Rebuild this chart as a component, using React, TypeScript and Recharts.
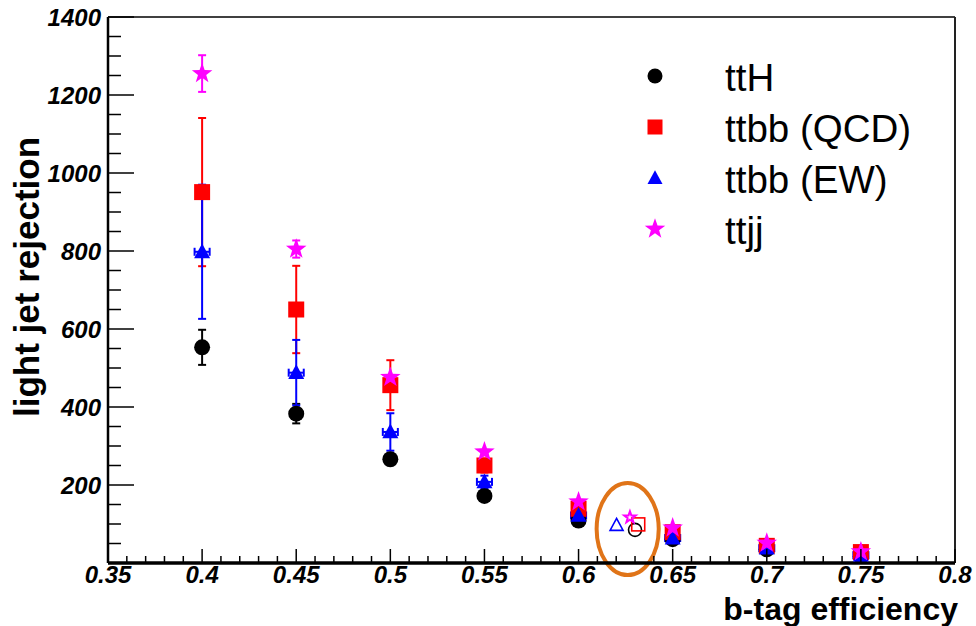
import React from 'react';
import {
  ScatterChart,
  Scatter,
  XAxis,
  YAxis,
  ErrorBar,
  Legend,
  ReferenceLine,
  ReferenceArea,
} from 'recharts';

// b-tag working points
const efficiency = [0.4, 0.45, 0.5, 0.55, 0.6, 0.65, 0.7, 0.75];

// light jet rejection per sample, with statistical errors
const ttH = [553, 383, 266, 172, 109, 61, 35, 17];
const ttHErr = [45, 25, 10, 6, 4, 2, 1, 1];
const ttbbQCD = [951, 650, 456, 250, 139, 79, 44, 28];
const ttbbQCDErr = [190, 112, 64, 18, 10, 5, 3, 2];
const ttbbEW = [798, 488, 336, 208, 122, 64, 38, 20];
const ttbbEWErr = [172, 84, 48, 16, 8, 4, 2, 1];
const ttbbEWEffErr = [0.004, 0.004, 0.004, 0.004, 0.004, 0.004, 0.004, 0.004];
const ttjj = [1255, 805, 476, 285, 157, 90, 51, 29];
const ttjjErr = [47, 22, 6, 5, 3, 2, 1, 1];

// highlighted (open marker) points, in series order: ttH, ttbb QCD, ttbb EW, ttjj
const openEff = [0.63, 0.6317, 0.6202, 0.6273];
const openRej = [85, 99, 97, 117];

// highlight ellipse bounds
const ringEff = [0.6096, 0.6426];
const ringRej = [-31, 205];

// axis ticks
const effMajorTicks = [0.35, 0.4, 0.45, 0.5, 0.55, 0.6, 0.65, 0.7, 0.75, 0.8];
const rejMajorTicks = [0, 200, 400, 600, 800, 1000, 1200, 1400];

const effTicks: number[] = [];
for (let i = 0; i <= 45; i++) effTicks.push(Math.round((0.35 + i * 0.01) * 100) / 100);
const rejTicks: number[] = [];
for (let v = 0; v <= 1400; v += 50) rejTicks.push(v);

const FONT = '"Liberation Sans", Arial, Helvetica, sans-serif';

type Marker = 'circle' | 'square' | 'triangle' | 'star';

const series = [
  { name: 'ttH', values: ttH, errors: ttHErr, color: '#000000', marker: 'circle' as Marker },
  { name: 'ttbb (QCD)', values: ttbbQCD, errors: ttbbQCDErr, color: '#ff0000', marker: 'square' as Marker },
  { name: 'ttbb (EW)', values: ttbbEW, errors: ttbbEWErr, color: '#0000ff', marker: 'triangle' as Marker, effErr: ttbbEWEffErr },
  { name: 'ttjj', values: ttjj, errors: ttjjErr, color: '#ff00ff', marker: 'star' as Marker },
];

function starPath(cx: number, cy: number, R: number) {
  const r = R * 0.4;
  let d = '';
  for (let i = 0; i < 10; i++) {
    const rad = i % 2 === 0 ? R : r;
    const a = -Math.PI / 2 + (i * Math.PI) / 5;
    d += (i === 0 ? 'M' : 'L') + (cx + rad * Math.cos(a)).toFixed(2) + ',' + (cy + rad * Math.sin(a)).toFixed(2);
  }
  return d + 'Z';
}

function drawMarker(kind: Marker, cx: number, cy: number, size: number, color: string, open = false) {
  const h = size / 2;
  const fill = open ? 'none' : color;
  const stroke = open ? color : 'none';
  const sw = open ? 1.6 : 0;
  if (kind === 'circle') return <circle cx={cx} cy={cy} r={h} fill={fill} stroke={stroke} strokeWidth={sw} />;
  if (kind === 'square') return <rect x={cx - h} y={cy - h} width={size} height={size} fill={fill} stroke={stroke} strokeWidth={sw} />;
  if (kind === 'triangle')
    return (
      <path
        d={`M${cx},${cy - h * 1.05}L${cx + h},${cy + h * 0.8}L${cx - h},${cy + h * 0.8}Z`}
        fill={fill}
        stroke={stroke}
        strokeWidth={sw}
      />
    );
  return <path d={starPath(cx, cy, h * 1.2)} fill={fill} stroke={stroke} strokeWidth={open ? 2 : 0} />;
}

function rows(s: (typeof series)[number]) {
  return efficiency.map((eff, i) => ({
    eff,
    rej: s.values[i],
    err: s.errors[i],
    effErr: s.effErr ? s.effErr[i] : 0,
  }));
}

function EffTick(props: any) {
  const { x, y, payload } = props;
  const v = payload.value as number;
  const major = effMajorTicks.includes(v);
  return (
    <g>
      <line x1={x} y1={y} x2={x} y2={y - (major ? 14 : 7)} stroke="#000" strokeWidth={1.5} />
      {major && (
        <text x={x} y={y + 20} textAnchor="middle" fontFamily={FONT} fontSize={24} fontWeight="bold" fontStyle="italic" fill="#000">
          {String(v)}
        </text>
      )}
    </g>
  );
}

function RejTick(props: any) {
  const { x, y, payload } = props;
  const v = payload.value as number;
  const major = rejMajorTicks.includes(v);
  return (
    <g>
      <line x1={x} y1={y} x2={x + (major ? 26 : 13)} y2={y} stroke="#000" strokeWidth={1.5} />
      {major && v > 0 && (
        <text x={x - 7} y={y} dy="0.36em" textAnchor="end" fontFamily={FONT} fontSize={24} fontWeight="bold" fontStyle="italic" fill="#000">
          {v}
        </text>
      )}
    </g>
  );
}

function LegendBox() {
  return (
    <div style={{ fontFamily: FONT, fontSize: 38.5, color: '#000' }}>
      {series.map((s) => (
        <div key={s.name} style={{ display: 'flex', alignItems: 'center', height: 51, lineHeight: '51px' }}>
          <svg width={30} height={51} style={{ display: 'block' }}>
            {drawMarker(s.marker, 15, 24, s.marker === 'star' ? 18 : 15, s.color)}
          </svg>
          <span style={{ marginLeft: 55, whiteSpace: 'nowrap' }}>{s.name}</span>
        </div>
      ))}
    </div>
  );
}

export default function App() {
  return (
    <div style={{ position: 'absolute', left: 0, top: 0, background: '#fff' }}>
      <ScatterChart width={976} height={626} margin={{ top: 17, right: 21, left: 0, bottom: 0 }}>
        <XAxis
          type="number"
          dataKey="eff"
          domain={[0.35, 0.8]}
          allowDataOverflow
          ticks={effTicks}
          interval={0}
          tick={<EffTick />}
          tickLine={false}
          tickSize={0}
          tickMargin={0}
          height={63}
          axisLine={{ stroke: '#000', strokeWidth: 3.5 }}
          label={{
            content: ({ viewBox }: any) => (
              <text
                x={viewBox.x + viewBox.width + 3}
                y={viewBox.y + 57}
                textAnchor="end"
                fontFamily={FONT}
                fontSize={32}
                fontWeight="bold"
                fill="#000"
              >
                b-tag efficiency
              </text>
            ),
          }}
        />
        <YAxis
          type="number"
          dataKey="rej"
          domain={[0, 1400]}
          allowDataOverflow
          ticks={rejTicks}
          interval={0}
          tick={<RejTick />}
          tickLine={false}
          tickSize={0}
          tickMargin={0}
          width={108}
          axisLine={{ stroke: '#000', strokeWidth: 2.5 }}
          label={{
            content: () => (
              <text
                x={39}
                y={277}
                transform="rotate(-90, 39, 277)"
                textAnchor="middle"
                fontFamily={FONT}
                fontSize={35}
                fontWeight="bold"
                fill="#000"
              >
                light jet rejection
              </text>
            ),
          }}
        />
        <ReferenceLine y={1400} stroke="#000" strokeWidth={1.5} />
        <ReferenceLine x={0.8} stroke="#222" strokeWidth={2} />
        <Legend
          layout="horizontal"
          verticalAlign="middle"
          align="center"
          content={() => <LegendBox />}
          wrapperStyle={{ left: 640, top: 52, width: 336 }}
        />
        {series.map((s) => (
          <Scatter
            key={s.name}
            name={s.name}
            data={rows(s)}
            isAnimationActive={false}
            shape={(p: any) => drawMarker(s.marker, p.cx, p.cy, s.marker === 'star' ? 18 : 16, s.color)}
          >
            <ErrorBar dataKey="err" direction="y" width={4} stroke={s.color} strokeWidth={2} />
            {s.effErr && <ErrorBar dataKey="effErr" direction="x" width={4} stroke={s.color} strokeWidth={2} />}
          </Scatter>
        ))}
        {series.map((s, i) => (
          <Scatter
            key={'open-' + s.name}
            name={s.name + ' (open)'}
            legendType="none"
            data={[{ eff: openEff[i], rej: openRej[i] }]}
            isAnimationActive={false}
            shape={(p: any) => drawMarker(s.marker, p.cx, p.cy, s.marker === 'star' ? 10 : 13, s.color, true)}
          />
        ))}
        <ReferenceArea
          x1={ringEff[0]}
          x2={ringEff[1]}
          y1={ringRej[0]}
          y2={ringRej[1]}
          ifOverflow="visible"
          shape={(p: any) => (
            <ellipse
              cx={p.x + p.width / 2}
              cy={p.y + p.height / 2}
              rx={Math.abs(p.width) / 2}
              ry={Math.abs(p.height) / 2}
              fill="none"
              stroke="#e07418"
              strokeWidth={4}
            />
          )}
        />
      </ScatterChart>
    </div>
  );
}
